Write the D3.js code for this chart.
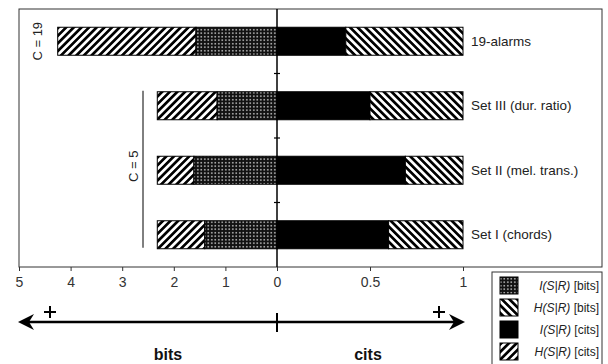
<!DOCTYPE html>
<html>
<head>
<meta charset="utf-8">
<script src="https://cdn.jsdelivr.net/npm/d3@7"></script>
<style>
  body { margin: 0; background: #fff; }
  svg { font-family: Arial, "Liberation Sans", sans-serif; }
</style>
</head>
<body>
<script>
var categories = ["19-alarms", "Set III (dur. ratio)", "Set II (mel. trans.)", "Set I (chords)"];
// entropy of the stimulus set, log2(C), in bits
var hBits = [4.25, 2.32, 2.32, 2.32];
// transmitted information I(S|R), in bits
var iBits = [1.57, 1.16, 1.61, 1.40];
// transmitted information, normalised (cits)
var iCits = [0.37, 0.50, 0.69, 0.60];
var bitTicks = [5, 4, 3, 2, 1, 0];
var citTicks = [0.5, 1];
var groups = [{label: "C = 19", from: 0, to: 0}, {label: "C = 5", from: 1, to: 3}];
var legendItems = [
    {it: "I(S|R)", unit: " [bits]", fill: "url(#dots)"},
    {it: "H(S|R)", unit: " [bits]", fill: "url(#back)"},
    {it: "I(S|R)", unit: " [cits]", fill: "#000"},
    {it: "H(S|R)", unit: " [cits]", fill: "url(#fwd)"}
];

var width = 608, height = 364;
var frame = {left: 19, top: 9, right: 602, bottom: 267};
var barH = 28;

var svg = d3.select("body").append("svg")
    .attr("width", width)
    .attr("height", height);

var defs = svg.append("defs");
var fwd = defs.append("pattern").attr("id", "fwd")
    .attr("patternUnits", "userSpaceOnUse")
    .attr("width", 5.4).attr("height", 5.4)
    .attr("patternTransform", "rotate(45)");
fwd.append("rect").attr("width", 5.4).attr("height", 5.4).attr("fill", "#fff");
fwd.append("rect").attr("width", 2.7).attr("height", 5.4).attr("fill", "#000");

var back = defs.append("pattern").attr("id", "back")
    .attr("patternUnits", "userSpaceOnUse")
    .attr("width", 5.4).attr("height", 5.4)
    .attr("patternTransform", "rotate(-45)");
back.append("rect").attr("width", 5.4).attr("height", 5.4).attr("fill", "#fff");
back.append("rect").attr("width", 2.7).attr("height", 5.4).attr("fill", "#000");

var dots = defs.append("pattern").attr("id", "dots")
    .attr("patternUnits", "userSpaceOnUse")
    .attr("width", 3.5).attr("height", 3.5);
dots.append("rect").attr("width", 3.5).attr("height", 3.5).attr("fill", "#111");
dots.append("rect").attr("x", 1).attr("y", 1).attr("width", 1.6).attr("height", 1.4).attr("fill", "#ccc");

var xBits = d3.scaleLinear().domain([0, 5]).range([277, frame.left]);
var xCits = d3.scaleLinear().domain([0, 1]).range([277, 463]);
var y = d3.scalePoint().domain(categories).range([frame.top, frame.bottom]).padding(0.5);

// frame
svg.append("rect")
    .attr("x", frame.left).attr("y", frame.top)
    .attr("width", frame.right - frame.left).attr("height", frame.bottom - frame.top)
    .attr("fill", "none").attr("stroke", "#333").attr("stroke-width", 1);

var rows = categories.map(function(c, i) {
    return {cat: c, h: hBits[i], ib: iBits[i], ic: iCits[i]};
});

var bar = svg.selectAll("g.row").data(rows).enter().append("g").attr("class", "row");

// bits side: H(S|R) beyond I(S|R)
bar.append("rect")
    .attr("x", function(d) { return xBits(d.h); })
    .attr("y", function(d) { return y(d.cat) - barH / 2; })
    .attr("width", function(d) { return xBits(d.ib) - xBits(d.h); })
    .attr("height", barH)
    .attr("fill", "url(#fwd)").attr("stroke", "#000").attr("stroke-width", 1);
bar.append("rect")
    .attr("x", function(d) { return xBits(d.ib); })
    .attr("y", function(d) { return y(d.cat) - barH / 2; })
    .attr("width", function(d) { return xBits(0) - xBits(d.ib); })
    .attr("height", barH)
    .attr("fill", "url(#dots)").attr("stroke", "#000").attr("stroke-width", 1);

// cits side
bar.append("rect")
    .attr("x", xCits(0))
    .attr("y", function(d) { return y(d.cat) - barH / 2; })
    .attr("width", function(d) { return xCits(d.ic) - xCits(0); })
    .attr("height", barH)
    .attr("fill", "#000").attr("stroke", "#000").attr("stroke-width", 1);
bar.append("rect")
    .attr("x", function(d) { return xCits(d.ic); })
    .attr("y", function(d) { return y(d.cat) - barH / 2; })
    .attr("width", function(d) { return xCits(1) - xCits(d.ic); })
    .attr("height", barH)
    .attr("fill", "url(#back)").attr("stroke", "#000").attr("stroke-width", 1);

bar.append("text")
    .attr("x", xCits(1) + 8)
    .attr("y", function(d) { return y(d.cat); })
    .attr("dy", "0.35em")
    .attr("font-size", 13.5)
    .attr("fill", "#222")
    .text(function(d) { return d.cat; });

// centre line with small ticks between rows
svg.append("line")
    .attr("x1", xBits(0)).attr("x2", xBits(0))
    .attr("y1", frame.top).attr("y2", frame.bottom)
    .attr("stroke", "#000").attr("stroke-width", 1.5);
var mids = d3.pairs(categories).map(function(p) { return (y(p[0]) + y(p[1])) / 2; });
svg.selectAll("line.mid").data(mids).enter().append("line")
    .attr("class", "mid")
    .attr("x1", xBits(0) - 3).attr("x2", xBits(0) + 3)
    .attr("y1", function(d) { return d; }).attr("y2", function(d) { return d; })
    .attr("stroke", "#000").attr("stroke-width", 1.2);

// group labels
groups.forEach(function(g) {
    var y0 = y(categories[g.from]) - barH / 2, y1 = y(categories[g.to]) + barH / 2;
    var cy = g.from === g.to ? (y0 + y1) / 2 : (y0 + y1) / 2 - 4;
    var lx = g.from === g.to ? 37 : 133;
    if (g.from !== g.to) {
        svg.append("line")
            .attr("x1", 143).attr("x2", 143).attr("y1", y0 - 1).attr("y2", y1 - 1)
            .attr("stroke", "#000").attr("stroke-width", 1);
    }
    svg.append("text")
        .attr("transform", "translate(" + lx + "," + cy + ") rotate(-90)")
        .attr("text-anchor", "middle")
        .attr("dy", "0.35em")
        .attr("font-size", 13)
        .attr("fill", "#222")
        .text(g.label);
});

// bottom axes
var axBits = svg.append("g").attr("transform", "translate(0," + frame.bottom + ")")
    .call(d3.axisBottom(xBits).tickValues(bitTicks).tickSize(4).tickPadding(6).tickFormat(d3.format("d")));
var axCits = svg.append("g").attr("transform", "translate(0," + frame.bottom + ")")
    .call(d3.axisBottom(xCits).tickValues(citTicks).tickSize(4).tickPadding(6).tickFormat(d3.format("")));
[axBits, axCits].forEach(function(ax) {
    ax.select(".domain").remove();
    ax.selectAll("text").attr("font-size", 14).attr("fill", "#333").attr("font-family", "Arial, sans-serif");
    ax.selectAll("line").attr("stroke", "#333");
});

// double arrow
var ay = 322;
svg.append("line")
    .attr("x1", xBits(5) + 8).attr("x2", xCits(1) - 8)
    .attr("y1", ay).attr("y2", ay)
    .attr("stroke", "#000").attr("stroke-width", 2.5);
function head(tip, dir) {
    return "M" + tip + "," + ay +
        " L" + (tip + dir * 16) + "," + (ay - 8) +
        " L" + (tip + dir * 11) + "," + ay +
        " L" + (tip + dir * 16) + "," + (ay + 8) + " Z";
}
svg.append("path").attr("d", head(xBits(5) - 1, 1)).attr("fill", "#000");
svg.append("path").attr("d", head(xCits(1) + 2, -1)).attr("fill", "#000");
svg.append("line")
    .attr("x1", xBits(0)).attr("x2", xBits(0)).attr("y1", ay - 9).attr("y2", ay + 10)
    .attr("stroke", "#000").attr("stroke-width", 2);

[[50, 312], [439, 312]].forEach(function(p) {
    svg.append("path")
        .attr("d", "M" + (p[0] - 6) + "," + p[1] + " h12 M" + p[0] + "," + (p[1] - 6) + " v12")
        .attr("stroke", "#000").attr("stroke-width", 2);
});

svg.append("text").attr("x", 168).attr("y", 360).attr("text-anchor", "middle")
    .attr("font-size", 16).attr("font-weight", "bold").attr("fill", "#111").text("bits");
svg.append("text").attr("x", 368).attr("y", 360).attr("text-anchor", "middle")
    .attr("font-size", 16).attr("font-weight", "bold").attr("fill", "#111").text("cits");

// legend
var lg = svg.append("g").attr("transform", "translate(492,272)");
lg.append("rect").attr("width", 110).attr("height", 100)
    .attr("fill", "#fff").attr("stroke", "#333").attr("stroke-width", 1);
var li = lg.selectAll("g.li").data(legendItems).enter().append("g")
    .attr("class", "li")
    .attr("transform", function(d, i) { return "translate(0," + (5 + i * 22) + ")"; });
li.append("rect").attr("x", 8).attr("width", 18).attr("height", 17)
    .attr("fill", function(d) { return d.fill; })
    .attr("stroke", "#000").attr("stroke-width", 1);
var lt = li.append("text").attr("x", 107).attr("y", 13)
    .attr("text-anchor", "end").attr("font-size", 12).attr("fill", "#222");
lt.append("tspan").attr("font-style", "italic").text(function(d) { return d.it; });
lt.append("tspan").text(function(d) { return d.unit; });
</script>
</body>
</html>
